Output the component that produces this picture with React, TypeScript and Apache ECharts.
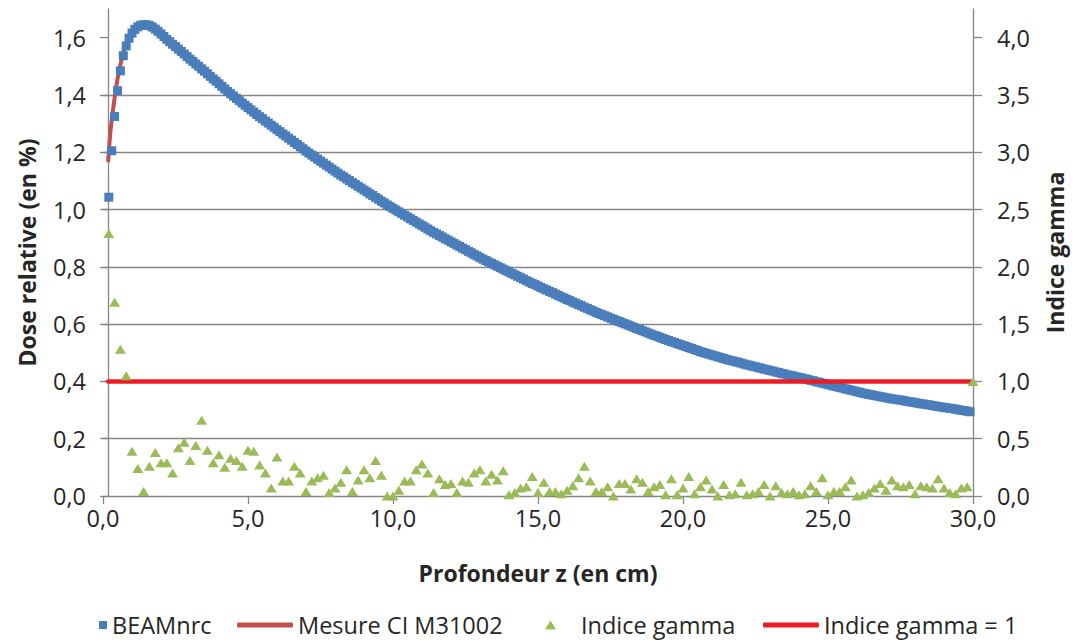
import React, { useEffect, useRef } from "react";
import * as echarts from "echarts";

// Depth (cm) and relative dose for the BEAMnrc simulation
const beamDepth = [
  0.2, 0.3, 0.4, 0.5, 0.6, 0.7, 0.8, 0.9, 1.0, 1.1, 1.2, 1.3, 1.4, 1.5, 1.6, 1.7, 1.8, 1.9,
  2.0, 2.1, 2.2, 2.3, 2.4, 2.5, 2.6, 2.7, 2.8, 2.9, 3.0, 3.1, 3.2, 3.3, 3.4, 3.5, 3.6, 3.7, 3.8, 3.9,
  4.0, 4.1, 4.2, 4.3, 4.4, 4.5, 4.6, 4.7, 4.8, 4.9, 5.0, 5.1, 5.2, 5.3, 5.4, 5.5, 5.6, 5.7, 5.8, 5.9,
  6.0, 6.1, 6.2, 6.3, 6.4, 6.5, 6.6, 6.7, 6.8, 6.9, 7.0, 7.1, 7.2, 7.3, 7.4, 7.5, 7.6, 7.7, 7.8, 7.9,
  8.0, 8.1, 8.2, 8.3, 8.4, 8.5, 8.6, 8.7, 8.8, 8.9, 9.0, 9.1, 9.2, 9.3, 9.4, 9.5, 9.6, 9.7, 9.8, 9.9,
  10.0, 10.1, 10.2, 10.3, 10.4, 10.5, 10.6, 10.7, 10.8, 10.9, 11.0, 11.1, 11.2, 11.3, 11.4, 11.5, 11.6, 11.7, 11.8, 11.9,
  12.0, 12.1, 12.2, 12.3, 12.4, 12.5, 12.6, 12.7, 12.8, 12.9, 13.0, 13.1, 13.2, 13.3, 13.4, 13.5, 13.6, 13.7, 13.8, 13.9,
  14.0, 14.1, 14.2, 14.3, 14.4, 14.5, 14.6, 14.7, 14.8, 14.9, 15.0, 15.1, 15.2, 15.3, 15.4, 15.5, 15.6, 15.7, 15.8, 15.9,
  16.0, 16.1, 16.2, 16.3, 16.4, 16.5, 16.6, 16.7, 16.8, 16.9, 17.0, 17.1, 17.2, 17.3, 17.4, 17.5, 17.6, 17.7, 17.8, 17.9,
  18.0, 18.1, 18.2, 18.3, 18.4, 18.5, 18.6, 18.7, 18.8, 18.9, 19.0, 19.1, 19.2, 19.3, 19.4, 19.5, 19.6, 19.7, 19.8, 19.9,
  20.0, 20.1, 20.2, 20.3, 20.4, 20.5, 20.6, 20.7, 20.8, 20.9, 21.0, 21.1, 21.2, 21.3, 21.4, 21.5, 21.6, 21.7, 21.8, 21.9,
  22.0, 22.1, 22.2, 22.3, 22.4, 22.5, 22.6, 22.7, 22.8, 22.9, 23.0, 23.1, 23.2, 23.3, 23.4, 23.5, 23.6, 23.7, 23.8, 23.9,
  24.0, 24.1, 24.2, 24.3, 24.4, 24.5, 24.6, 24.7, 24.8, 24.9, 25.0, 25.1, 25.2, 25.3, 25.4, 25.5, 25.6, 25.7, 25.8, 25.9,
  26.0, 26.1, 26.2, 26.3, 26.4, 26.5, 26.6, 26.7, 26.8, 26.9, 27.0, 27.1, 27.2, 27.3, 27.4, 27.5, 27.6, 27.7, 27.8, 27.9,
  28.0, 28.1, 28.2, 28.3, 28.4, 28.5, 28.6, 28.7, 28.8, 28.9, 29.0, 29.1, 29.2, 29.3, 29.4, 29.5, 29.6, 29.7, 29.8, 29.9,
];
const beamDose = [
  1.043, 1.205, 1.325, 1.415, 1.484, 1.537, 1.571, 1.598, 1.616, 1.629, 1.638, 1.643, 1.645, 1.645, 1.642, 1.637, 1.630, 1.622,
  1.613, 1.604, 1.594, 1.586, 1.577, 1.569, 1.560, 1.552, 1.543, 1.534, 1.525, 1.517, 1.508, 1.500, 1.491, 1.483, 1.474, 1.465, 1.456, 1.448,
  1.439, 1.430, 1.421, 1.412, 1.404, 1.396, 1.388, 1.380, 1.372, 1.364, 1.356, 1.348, 1.340, 1.332, 1.324, 1.317, 1.309, 1.302, 1.294, 1.287,
  1.279, 1.272, 1.264, 1.257, 1.249, 1.242, 1.234, 1.227, 1.219, 1.212, 1.204, 1.197, 1.190, 1.183, 1.176, 1.169, 1.162, 1.155, 1.148, 1.141,
  1.134, 1.127, 1.120, 1.114, 1.107, 1.101, 1.094, 1.088, 1.081, 1.075, 1.068, 1.062, 1.055, 1.049, 1.042, 1.036, 1.029, 1.023, 1.016, 1.010,
  1.004, 0.998, 0.992, 0.986, 0.980, 0.974, 0.968, 0.962, 0.956, 0.950, 0.944, 0.938, 0.932, 0.926, 0.920, 0.915, 0.909, 0.904, 0.898, 0.893,
  0.887, 0.882, 0.876, 0.871, 0.865, 0.860, 0.854, 0.849, 0.843, 0.838, 0.832, 0.827, 0.822, 0.817, 0.812, 0.807, 0.802, 0.797, 0.792, 0.787,
  0.782, 0.777, 0.772, 0.767, 0.762, 0.757, 0.752, 0.747, 0.742, 0.738, 0.733, 0.728, 0.723, 0.719, 0.714, 0.710, 0.705, 0.700, 0.695, 0.691,
  0.686, 0.682, 0.677, 0.673, 0.668, 0.664, 0.659, 0.655, 0.650, 0.646, 0.641, 0.637, 0.633, 0.629, 0.625, 0.621, 0.617, 0.613, 0.609, 0.605,
  0.601, 0.597, 0.593, 0.589, 0.585, 0.581, 0.577, 0.573, 0.569, 0.565, 0.561, 0.558, 0.554, 0.550, 0.546, 0.543, 0.539, 0.536, 0.532, 0.529,
  0.525, 0.522, 0.518, 0.515, 0.511, 0.508, 0.504, 0.501, 0.498, 0.495, 0.492, 0.489, 0.486, 0.483, 0.480, 0.477, 0.474, 0.472, 0.469, 0.467,
  0.464, 0.461, 0.458, 0.456, 0.453, 0.451, 0.448, 0.446, 0.443, 0.441, 0.438, 0.436, 0.433, 0.431, 0.428, 0.426, 0.423, 0.421, 0.419, 0.416,
  0.414, 0.412, 0.409, 0.407, 0.404, 0.402, 0.399, 0.397, 0.394, 0.392, 0.389, 0.387, 0.384, 0.382, 0.379, 0.377, 0.374, 0.372, 0.369, 0.367,
  0.364, 0.362, 0.359, 0.357, 0.355, 0.353, 0.351, 0.349, 0.347, 0.345, 0.343, 0.341, 0.339, 0.338, 0.336, 0.335, 0.333, 0.331, 0.329, 0.328,
  0.326, 0.324, 0.322, 0.321, 0.319, 0.318, 0.316, 0.314, 0.312, 0.311, 0.309, 0.308, 0.306, 0.305, 0.303, 0.301, 0.299, 0.298, 0.296, 0.294,
];

// Ionisation chamber measurement (Mesure CI M31002)
const mesureDepth = [
  0.18, 0.2, 0.25, 0.3, 0.35, 0.4, 0.45, 0.5, 0.6, 0.7, 0.8, 0.9, 1.0, 1.2, 1.4, 1.6, 2.0, 3.0, 4.0, 5.0,
  6.0, 7.0, 8.0, 9.0, 10.0, 11.0, 12.0, 13.0, 14.0, 15.0, 16.0, 17.0, 18.0, 19.0, 20.0, 21.0, 22.0, 23.0,
  24.0, 25.0, 26.0, 27.0, 28.0, 29.0, 29.8,
];
const mesureDose = [
  1.171, 1.200, 1.265, 1.312, 1.352, 1.390, 1.425, 1.455, 1.505, 1.548, 1.582, 1.606, 1.622, 1.639, 1.645, 1.642, 1.613, 1.525, 1.439, 1.356,
  1.279, 1.204, 1.134, 1.068, 1.004, 0.944, 0.887, 0.832, 0.782, 0.733, 0.686, 0.641, 0.601, 0.561, 0.525, 0.492, 0.464, 0.438,
  0.414, 0.389, 0.364, 0.343, 0.326, 0.309, 0.296,
];

// Gamma index (right axis)
const gammaDepth = [
  0.2, 0.4, 0.6, 0.8, 1.0, 1.2, 1.4, 1.6, 1.8, 2.0, 2.2, 2.4, 2.6, 2.8, 3.0, 3.2, 3.4, 3.6, 3.8, 4.0,
  4.2, 4.4, 4.6, 4.8, 5.0, 5.2, 5.4, 5.6, 5.8, 6.0, 6.2, 6.4, 6.6, 6.8, 7.0, 7.2, 7.4, 7.6, 7.8, 8.0,
  8.2, 8.4, 8.6, 8.8, 9.0, 9.2, 9.4, 9.6, 9.8, 10.0, 10.2, 10.4, 10.6, 10.8, 11.0, 11.2, 11.4, 11.6, 11.8, 12.0,
  12.2, 12.4, 12.6, 12.8, 13.0, 13.2, 13.4, 13.6, 13.8, 14.0, 14.2, 14.4, 14.6, 14.8, 15.0, 15.2, 15.4, 15.6, 15.8, 16.0,
  16.2, 16.4, 16.6, 16.8, 17.0, 17.2, 17.4, 17.6, 17.8, 18.0, 18.2, 18.4, 18.6, 18.8, 19.0, 19.2, 19.4, 19.6, 19.8, 20.0,
  20.2, 20.4, 20.6, 20.8, 21.0, 21.2, 21.4, 21.6, 21.8, 22.0, 22.2, 22.4, 22.6, 22.8, 23.0, 23.2, 23.4, 23.6, 23.8, 24.0,
  24.2, 24.4, 24.6, 24.8, 25.0, 25.2, 25.4, 25.6, 25.8, 26.0, 26.2, 26.4, 26.6, 26.8, 27.0, 27.2, 27.4, 27.6, 27.8, 28.0,
  28.2, 28.4, 28.6, 28.8, 29.0, 29.2, 29.4, 29.6, 29.8, 30.0,
];
const gammaValue = [
  2.29, 1.69, 1.28, 1.05, 0.39, 0.24, 0.04, 0.26, 0.38, 0.29, 0.29, 0.20, 0.42, 0.47, 0.31, 0.44, 0.66, 0.40, 0.29, 0.36,
  0.25, 0.33, 0.31, 0.26, 0.40, 0.39, 0.27, 0.20, 0.07, 0.34, 0.13, 0.13, 0.26, 0.20, 0.04, 0.13, 0.16, 0.18, 0.03, 0.07,
  0.12, 0.23, 0.04, 0.14, 0.23, 0.16, 0.31, 0.18, 0.00, 0.00, 0.05, 0.13, 0.13, 0.23, 0.28, 0.20, 0.03, 0.15, 0.10, 0.11,
  0.03, 0.13, 0.12, 0.20, 0.23, 0.13, 0.19, 0.14, 0.22, 0.01, 0.03, 0.07, 0.08, 0.17, 0.03, 0.12, 0.04, 0.04, 0.02, 0.05,
  0.09, 0.16, 0.26, 0.13, 0.04, 0.04, 0.08, 0.00, 0.11, 0.11, 0.06, 0.15, 0.12, 0.04, 0.08, 0.10, 0.01, 0.15, 0.01, 0.07,
  0.17, 0.02, 0.08, 0.14, 0.06, 0.00, 0.10, 0.01, 0.02, 0.12, 0.01, 0.02, 0.04, 0.10, 0.00, 0.09, 0.03, 0.02, 0.04, 0.01,
  0.02, 0.09, 0.04, 0.16, 0.01, 0.04, 0.04, 0.08, 0.14, 0.00, 0.01, 0.03, 0.07, 0.11, 0.05, 0.14, 0.09, 0.08, 0.10, 0.02,
  0.09, 0.08, 0.07, 0.15, 0.07, 0.03, 0.02, 0.07, 0.08, 1.00,
];

// Gamma = 1 reference line
const gammaOneDepth = [0.18, 30.0];
const gammaOneValue = [1.0, 1.0];

// Tick values
const leftTicks = [0, 0.2, 0.4, 0.6, 0.8, 1.0, 1.2, 1.4, 1.6];
const rightTicks = [0, 0.5, 1.0, 1.5, 2.0, 2.5, 3.0, 3.5, 4.0];

const FONT = "Open Sans";
const TEXT = "#262626";
const AXIS = "#868686";

const fmt = (v: number) => v.toFixed(1).replace(".", ",");
const pairs = (xs: number[], ys: number[]) => xs.map((x, i) => [x, ys[i]]);

export default function App() {
  const ref = useRef<HTMLDivElement>(null);
  useEffect(() => {
    if (!ref.current) return;
    const chart = echarts.init(ref.current, null, { renderer: "svg" });
    const labelStyle = { fontFamily: FONT, fontSize: 23.5, color: TEXT };
    const nameStyle = { fontFamily: FONT, fontSize: 23, fontWeight: "bold" as const, color: TEXT };
    const legendText = { fontFamily: FONT, fontSize: 23.5, color: TEXT };
    const legendTop = 608;
    chart.setOption({
      animation: false,
      backgroundColor: "#ffffff",
      textStyle: { fontFamily: FONT },
      grid: { left: 103, right: 104, top: 9, bottom: 148, containLabel: false },
      xAxis: {
        type: "value",
        min: 0,
        max: 30,
        interval: 5,
        axisLine: { show: true, onZero: false, lineStyle: { color: AXIS, width: 1.3 } },
        axisTick: { show: true, length: 8, lineStyle: { color: AXIS, width: 1.3 } },
        splitLine: { show: false },
        axisLabel: { ...labelStyle, margin: 10, formatter: (v: number) => fmt(v) },
        name: "Profondeur z (en cm)",
        nameLocation: "middle",
        nameGap: 65,
        nameTextStyle: nameStyle,
      },
      yAxis: [
        {
          type: "value",
          position: "left",
          min: 0,
          max: 1.7,
          interval: 0.2,
          offset: -5,
          axisLine: { show: true, onZero: false, lineStyle: { color: AXIS, width: 1.3 } },
          axisTick: { show: true, length: 8, customValues: leftTicks, lineStyle: { color: AXIS, width: 1.3 } },
          axisLabel: { ...labelStyle, margin: 22, customValues: leftTicks, formatter: (v: number) => fmt(v) },
          splitLine: { show: true, showMinLine: false, showMaxLine: false, lineStyle: { color: AXIS, width: 1.3 } },
          name: "Dose relative (en %)",
          nameLocation: "middle",
          nameRotate: 90,
          nameGap: 70,
          nameTextStyle: nameStyle,
        },
        {
          type: "value",
          position: "right",
          min: 0,
          max: 4.25,
          interval: 0.5,
          axisLine: { show: true, onZero: false, lineStyle: { color: AXIS, width: 1.3 } },
          axisTick: { show: true, length: 9, customValues: rightTicks, lineStyle: { color: AXIS, width: 1.3 } },
          axisLabel: { ...labelStyle, margin: 24, customValues: rightTicks, formatter: (v: number) => fmt(v) },
          splitLine: { show: false },
          name: "Indice gamma",
          nameLocation: "middle",
          nameRotate: 90,
          nameGap: 70,
          nameTextStyle: nameStyle,
        },
      ],
      legend: [
        {
          data: [{ name: "BEAMnrc", icon: "rect" }],
          left: 94,
          top: legendTop,
          itemWidth: 8,
          itemHeight: 8,
          textStyle: legendText,
        },
        {
          data: [{ name: "Mesure CI M31002", icon: "roundRect" }],
          left: 232,
          top: legendTop,
          itemWidth: 56,
          itemHeight: 5,
          textStyle: legendText,
        },
        {
          data: [{ name: "Indice gamma", icon: "triangle" }],
          left: 540,
          top: legendTop,
          itemWidth: 11,
          itemHeight: 9,
          textStyle: { ...legendText, padding: [0, 0, 0, 20] },
        },
        {
          data: [{ name: "Indice gamma = 1", icon: "roundRect" }],
          left: 758,
          top: legendTop,
          itemWidth: 56,
          itemHeight: 5,
          textStyle: legendText,
        },
      ],
      series: [
        {
          name: "Mesure CI M31002",
          type: "line",
          xAxisIndex: 0,
          yAxisIndex: 0,
          data: pairs(mesureDepth, mesureDose),
          symbol: "none",
          smooth: 0.3,
          clip: false,
          lineStyle: { color: "#c0504d", width: 4, cap: "round" },
          itemStyle: { color: "#c0504d" },
          z: 2,
        },
        {
          name: "BEAMnrc",
          type: "scatter",
          xAxisIndex: 0,
          yAxisIndex: 0,
          data: pairs(beamDepth, beamDose),
          symbol: "rect",
          symbolSize: 9,
          clip: false,
          itemStyle: { color: "#4a7ebb", opacity: 1 },
          z: 3,
        },
        {
          name: "Indice gamma = 1",
          type: "line",
          xAxisIndex: 0,
          yAxisIndex: 1,
          data: pairs(gammaOneDepth, gammaOneValue),
          symbol: "none",
          clip: false,
          lineStyle: { color: "#ed1c24", width: 4.5, cap: "round" },
          itemStyle: { color: "#ed1c24" },
          z: 4,
        },
        {
          name: "Indice gamma",
          type: "scatter",
          xAxisIndex: 0,
          yAxisIndex: 1,
          data: pairs(gammaDepth, gammaValue),
          symbol: "triangle",
          symbolSize: [11, 9],
          clip: false,
          itemStyle: { color: "#9bbb59", opacity: 1 },
          z: 5,
        },
      ],
    });
    return () => chart.dispose();
  }, []);
  return (
    <div
      ref={ref}
      style={{ position: "fixed", left: 0, top: 0, width: 1077, height: 644, background: "#fff" }}
    />
  );
}
